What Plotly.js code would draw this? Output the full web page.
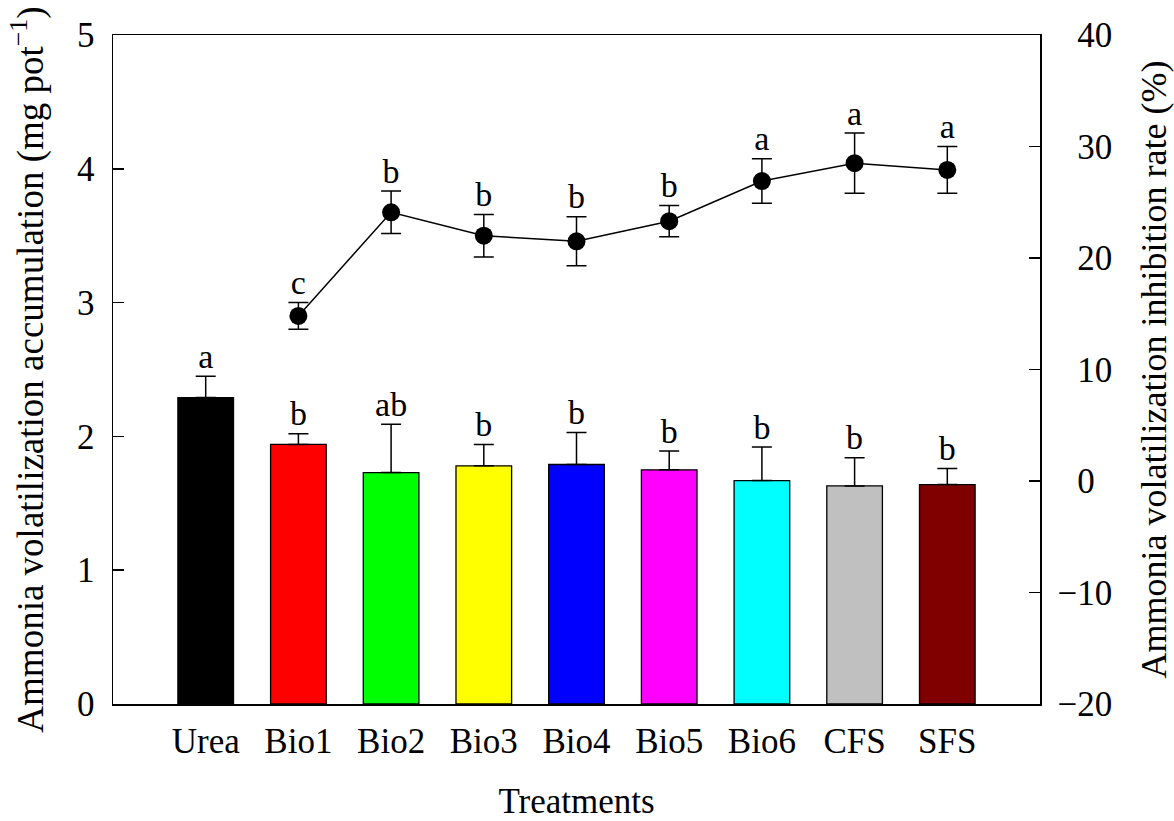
<!DOCTYPE html>
<html>
<head>
<meta charset="utf-8">
<script src="https://cdn.plot.ly/plotly-3.0.1.min.js"></script>
<style>html,body{margin:0;padding:0;background:#fff;}#chart{width:1174px;height:821px;}</style>
</head>
<body>
<div id="chart"></div>
<script>
var categories = ["Urea","Bio1","Bio2","Bio3","Bio4","Bio5","Bio6","CFS","SFS"];
var barValues = [2.29, 1.94, 1.73, 1.78, 1.79, 1.75, 1.67, 1.63, 1.64];
var barErrors = [0.16, 0.08, 0.36, 0.16, 0.24, 0.14, 0.25, 0.21, 0.12];
var barLetters = ["a","b","ab","b","b","b","b","b","b"];
var barColors = ["#000000","#ff0000","#00ff00","#ffff00","#0000ff","#ff00ff","#00ffff","#c0c0c0","#800000"];

var lineCategories = ["Bio1","Bio2","Bio3","Bio4","Bio5","Bio6","CFS","SFS"];
var lineValues = [14.8, 24.1, 22.0, 21.5, 23.3, 26.9, 28.5, 27.9];
var lineErrors = [1.2, 1.9, 1.9, 2.2, 1.4, 2.0, 2.7, 2.1];
var lineLetters = ["c","b","b","b","b","a","a","a"];

var rightTickVals = [-20, -10, 0, 10, 20, 30, 40];

var serif = "Liberation Serif";
var hiddenMinus = "<span style='color:rgba(0,0,0,0)'>\u2212</span>";
var rightTickText = rightTickVals.map(function(v){
  return v < 0 ? "\u2212" + Math.abs(v) : hiddenMinus + v;
});

var barTops = barValues.map(function(v,i){return v + barErrors[i];});
var lineTops = lineValues.map(function(v,i){return v + lineErrors[i];});

var traces = [
  {
    type: "bar", x: categories, y: barValues, width: 0.6,
    marker: {color: barColors, line: {color: "#000", width: 1.3}},
    error_y: {type: "data", array: barErrors, arrayminus: barErrors.map(function(){return 0;}), symmetric: false, color: "#000", thickness: 1.5, width: 10},
    showlegend: false
  },
  {
    type: "scatter", mode: "text", x: categories, y: barTops, text: barLetters,
    textposition: "top center", textfont: {family: serif, size: 34, color: "#000"},
    hoverinfo: "skip", showlegend: false
  },
  {
    type: "scatter", mode: "lines+markers", x: lineCategories, y: lineValues, yaxis: "y2",
    line: {color: "#000", width: 1.5},
    marker: {color: "#000", size: 18},
    error_y: {type: "data", array: lineErrors, color: "#000", thickness: 1.5, width: 10},
    showlegend: false
  },
  {
    type: "scatter", mode: "text", x: lineCategories, y: lineTops, yaxis: "y2", text: lineLetters,
    textposition: "top center", textfont: {family: serif, size: 34, color: "#000"},
    hoverinfo: "skip", showlegend: false
  }
];

var layout = {
  width: 1174, height: 821,
  margin: {l: 113, r: 134, t: 35, b: 117},
  paper_bgcolor: "#fff", plot_bgcolor: "#fff",
  font: {family: serif, color: "#000"},
  showlegend: false,
  xaxis: {
    type: "category", categoryorder: "array", categoryarray: categories,
    range: [-1, 9], showline: true, linecolor: "#000", linewidth: 1.5, mirror: true,
    ticks: "", showgrid: false, zeroline: false,
    tickfont: {family: serif, size: 35}, ticklabelstandoff: 5,
    title: {text: "Treatments", font: {family: serif, size: 35}, standoff: 29}
  },
  yaxis: {
    range: [0, 5], dtick: 1, showline: true, linecolor: "#000", linewidth: 1.5,
    ticks: "inside", ticklen: 11, tickwidth: 1.5, tickcolor: "#000",
    showgrid: false, zeroline: false,
    tickfont: {family: serif, size: 35}, ticklabelstandoff: 10,
    title: {text: "Ammonia volatilization accumulation (mg pot<sup>\u22121</sup>)", font: {family: serif, size: 37}, standoff: 22}
  },
  yaxis2: {
    overlaying: "y", side: "right", range: [-20, 40],
    tickmode: "array", tickvals: rightTickVals, ticktext: rightTickText,
    showline: true, linecolor: "#000", linewidth: 1.5,
    ticks: "inside", ticklen: 11, tickwidth: 1.5, tickcolor: "#000",
    showgrid: false, zeroline: false,
    tickfont: {family: serif, size: 35}, ticklabelstandoff: 9,
    title: {text: "Ammonia volatilization inhibition rate (%)", font: {family: serif, size: 36}, standoff: 34}
  }
};

Plotly.newPlot("chart", traces, layout, {displayModeBar: false, staticPlot: true});
</script>
</body>
</html>
